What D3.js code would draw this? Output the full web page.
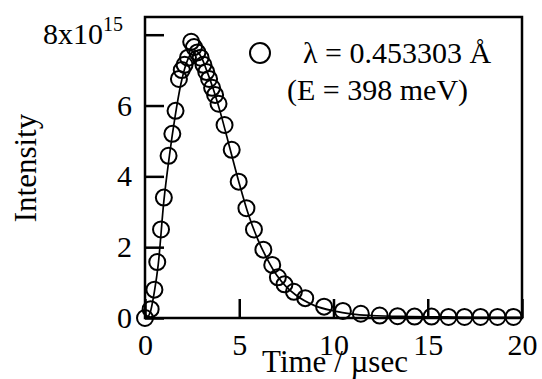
<!DOCTYPE html>
<html>
<head>
<meta charset="utf-8">
<script src="https://cdn.jsdelivr.net/npm/d3@7"></script>
<style>
  body { margin: 0; background: #fff; }
  text { font-family: "Liberation Serif", "Times New Roman", serif; fill: #000; }
</style>
</head>
<body>
<svg width="542" height="379"></svg>
<script>
// measured points (time in usec, intensity in units of 1e15)
var dataTime = [0.0, 0.3, 0.5, 0.65, 0.85, 1.0, 1.25, 1.45, 1.62, 1.8, 1.95, 2.1, 2.28,
  2.45, 2.6, 2.78, 2.95, 3.1, 3.25, 3.4, 3.56, 3.72, 3.9, 4.22, 4.6, 4.97, 5.38, 5.78,
  6.28, 6.75, 7.05, 7.4, 7.9, 8.5, 9.5, 10.5, 11.45, 12.45, 13.4, 14.3, 15.2, 16.1,
  16.95, 17.8, 18.7, 19.55];
var dataIntensity = [0.0, 0.25, 0.8, 1.58, 2.5, 3.4, 4.58, 5.2, 5.85, 6.75, 7.0, 7.15, 7.35,
  7.8, 7.65, 7.5, 7.35, 7.15, 6.95, 6.75, 6.5, 6.3, 6.05, 5.45, 4.75, 3.85, 3.1, 2.5,
  1.93, 1.5, 1.15, 0.95, 0.74, 0.56, 0.32, 0.2, 0.12, 0.07, 0.05, 0.04, 0.04, 0.03,
  0.03, 0.03, 0.03, 0.03];

// fitted curve
var fitTime = [0.1, 0.3, 0.5, 0.7, 1.0, 1.3, 1.6, 1.9, 2.2, 2.5, 2.7, 3.0, 3.3, 3.6, 4.0,
  4.5, 5.0, 5.5, 6.0, 6.5, 7.0, 7.5, 8.0, 9.0, 10, 11, 12, 14, 16, 18, 20];
var fitIntensity = [0.0, 0.2, 0.75, 1.5, 3.3, 4.6, 5.7, 6.6, 7.2, 7.5, 7.55, 7.35, 6.95,
  6.5, 5.8, 4.8, 3.8, 2.9, 2.2, 1.65, 1.2, 0.88, 0.65, 0.35, 0.2, 0.11, 0.07, 0.04,
  0.03, 0.02, 0.02];

var xTicks = [0, 5, 10, 15, 20];
var yTicks = [0, 2, 4, 6, 8];

var svg = d3.select("svg");
var plotL = 145, plotR = 522, plotT = 17, plotB = 318;

var x = d3.scaleLinear().domain([0, 20]).range([plotL, plotR]);
var y = d3.scaleLinear().domain([0, 8.5]).range([plotB, plotT]);

// fit line
svg.append("path")
  .datum(d3.zip(fitTime, fitIntensity))
  .attr("fill", "none")
  .attr("stroke", "#000")
  .attr("stroke-width", 1.7)
  .attr("d", d3.line()
    .x(function(d) { return x(d[0]); })
    .y(function(d) { return y(d[1]); })
    .curve(d3.curveMonotoneX));

// data circles
svg.append("g")
  .selectAll("circle")
  .data(d3.zip(dataTime, dataIntensity))
  .enter().append("circle")
  .attr("cx", function(d) { return x(d[0]); })
  .attr("cy", function(d) { return y(d[1]); })
  .attr("r", 8)
  .attr("fill", "none")
  .attr("stroke", "#000")
  .attr("stroke-width", 2);

// axes
var xAxis = svg.append("g")
  .attr("transform", "translate(0," + plotB + ")")
  .call(d3.axisBottom(x).tickValues(xTicks).tickSizeInner(-19).tickSizeOuter(0).tickPadding(16));

var yAxis = svg.append("g")
  .attr("transform", "translate(" + plotL + ",0)")
  .call(d3.axisLeft(y).tickValues(yTicks).tickSizeInner(-19).tickSizeOuter(0).tickPadding(13)
    .tickFormat(function(d) { return d === 8 ? "8x10" : d; }));

[xAxis, yAxis].forEach(function(a) {
  a.select(".domain").remove();
  a.selectAll("line").attr("stroke", "#000").attr("stroke-width", 2.5);
  a.selectAll("text").attr("font-size", 30).attr("font-family", "Liberation Serif").attr("fill", "#000");
});

yAxis.selectAll(".tick text")
  .filter(function(d) { return d === 8; })
  .attr("x", -22)
  .attr("dy", "0.28em")
  .append("tspan")
  .attr("font-size", 20)
  .attr("dy", -13)
  .text("15");

// frame
svg.append("rect")
  .attr("x", plotL)
  .attr("y", plotT)
  .attr("width", plotR - plotL)
  .attr("height", plotB - plotT)
  .attr("fill", "none")
  .attr("stroke", "#000")
  .attr("stroke-width", 2.5);

// axis titles
svg.append("text")
  .attr("x", 335)
  .attr("y", 372)
  .attr("text-anchor", "middle")
  .attr("font-size", 31)
  .text("Time / \u00b5sec");

svg.append("text")
  .attr("transform", "translate(36,168) rotate(-90)")
  .attr("text-anchor", "middle")
  .attr("font-size", 31)
  .text("Intensity");

// legend
svg.append("circle")
  .attr("cx", 260)
  .attr("cy", 53)
  .attr("r", 10)
  .attr("fill", "none")
  .attr("stroke", "#000")
  .attr("stroke-width", 2);

svg.append("text")
  .attr("x", 303)
  .attr("y", 63)
  .attr("font-size", 30)
  .text("\u03bb = 0.453303 \u00c5");

svg.append("text")
  .attr("x", 287)
  .attr("y", 100)
  .attr("font-size", 30)
  .text("(E = 398 meV)");
</script>
</body>
</html>
